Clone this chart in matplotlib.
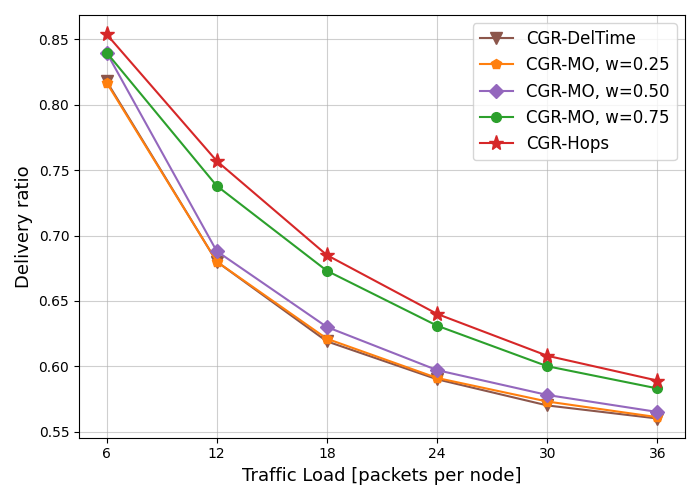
import matplotlib
matplotlib.use("Agg")
import matplotlib.pyplot as plt

loads = [6, 12, 18, 24, 30, 36]
deltime = [0.818, 0.680, 0.619, 0.590, 0.570, 0.560]
mo025 = [0.817, 0.680, 0.621, 0.591, 0.573, 0.561]
mo050 = [0.840, 0.688, 0.630, 0.597, 0.578, 0.565]
mo075 = [0.840, 0.738, 0.673, 0.631, 0.600, 0.583]
hops = [0.854, 0.757, 0.685, 0.640, 0.608, 0.589]

fig, ax = plt.subplots(figsize=(7, 5), dpi=100)
ax.plot(loads, deltime, marker='v', color='tab:brown', markersize=8, label='CGR-DelTime')
ax.plot(loads, mo025, marker='p', color='tab:orange', markersize=7, label='CGR-MO, w=0.25')
ax.plot(loads, mo050, marker='D', color='tab:purple', markersize=7, label='CGR-MO, w=0.50')
ax.plot(loads, mo075, marker='o', color='tab:green', markersize=7, label='CGR-MO, w=0.75')
ax.plot(loads, hops, marker='*', color='tab:red', markersize=11, label='CGR-Hops')
ax.set_xticks(loads)
ax.grid(True, alpha=0.6)
ax.set_xlabel('Traffic Load [packets per node]', fontsize=13)
ax.set_ylabel('Delivery ratio', fontsize=13)
ax.legend(fontsize=12)
fig.tight_layout()
fig.savefig('out.png')
